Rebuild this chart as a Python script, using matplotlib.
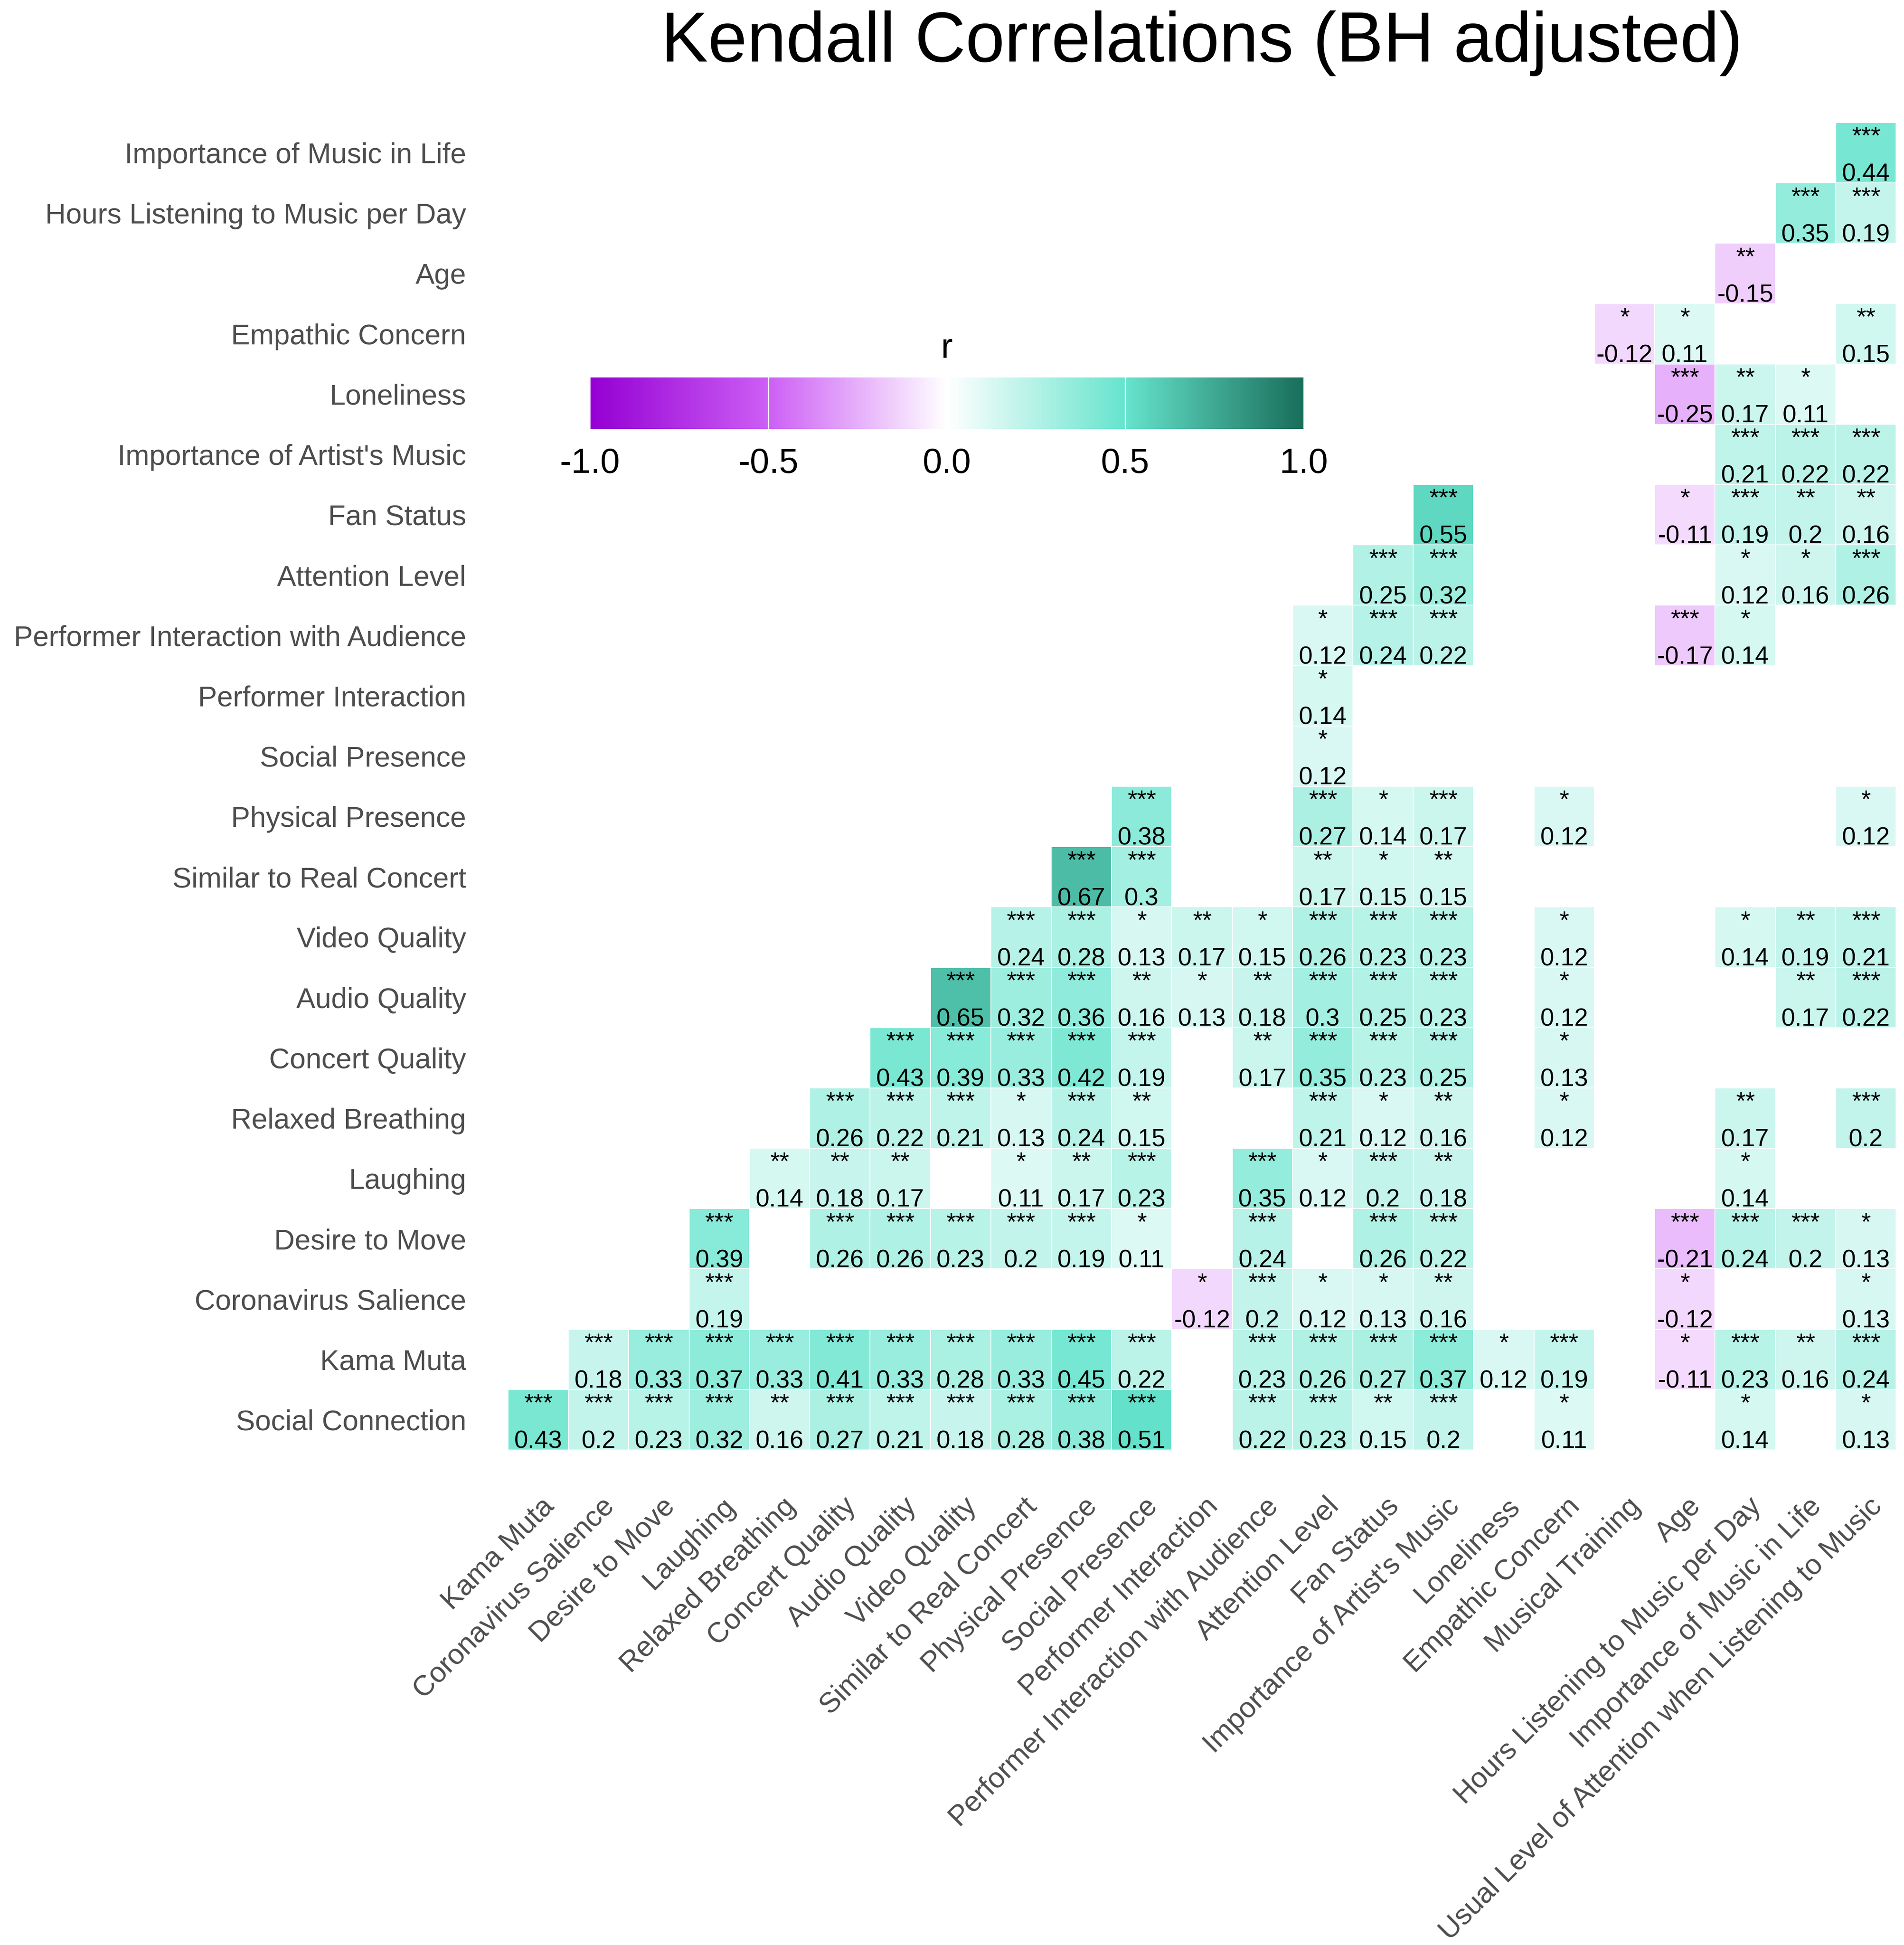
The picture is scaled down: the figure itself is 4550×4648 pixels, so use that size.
import numpy as np
import matplotlib
matplotlib.use("Agg")
import matplotlib.pyplot as plt
from matplotlib.colors import LinearSegmentedColormap, Normalize
from matplotlib.cm import ScalarMappable
from matplotlib.transforms import ScaledTranslation

plt.rcParams['font.family'] = ['Liberation Sans', 'DejaVu Sans']

title = "Kendall Correlations (BH adjusted)"

col_labels = ["Kama Muta", "Coronavirus Salience", "Desire to Move", "Laughing",
              "Relaxed Breathing", "Concert Quality", "Audio Quality", "Video Quality",
              "Similar to Real Concert", "Physical Presence", "Social Presence",
              "Performer Interaction", "Performer Interaction with Audience",
              "Attention Level", "Fan Status", "Importance of Artist's Music",
              "Loneliness", "Empathic Concern", "Musical Training", "Age",
              "Hours Listening to Music per Day", "Importance of Music in Life",
              "Usual Level of Attention when Listening to Music"]

# bottom to top
row_labels = ["Social Connection", "Kama Muta", "Coronavirus Salience", "Desire to Move",
              "Laughing", "Relaxed Breathing", "Concert Quality", "Audio Quality",
              "Video Quality", "Similar to Real Concert", "Physical Presence",
              "Social Presence", "Performer Interaction",
              "Performer Interaction with Audience", "Attention Level", "Fan Status",
              "Importance of Artist's Music", "Loneliness", "Empathic Concern", "Age",
              "Hours Listening to Music per Day", "Importance of Music in Life"]

# significant cells: row variable, column variable, Kendall r, significance stars
cell_row, cell_col, cell_r, cell_sig = [], [], [], []

def add(row, cols, rs, sigs):
    for c, r, s in zip(cols, rs, sigs):
        cell_row.append(row); cell_col.append(c); cell_r.append(r); cell_sig.append(s)

add("Social Connection",
    ["Kama Muta", "Coronavirus Salience", "Desire to Move", "Laughing", "Relaxed Breathing",
     "Concert Quality", "Audio Quality", "Video Quality", "Similar to Real Concert",
     "Physical Presence", "Social Presence", "Performer Interaction with Audience",
     "Attention Level", "Fan Status", "Importance of Artist's Music", "Empathic Concern",
     "Hours Listening to Music per Day", "Usual Level of Attention when Listening to Music"],
    [0.43, 0.2, 0.23, 0.32, 0.16, 0.27, 0.21, 0.18, 0.28, 0.38, 0.51, 0.22, 0.23, 0.15, 0.2, 0.11, 0.14, 0.13],
    ["***", "***", "***", "***", "**", "***", "***", "***", "***", "***", "***", "***", "***", "**", "***", "*", "*", "*"])
add("Kama Muta",
    ["Coronavirus Salience", "Desire to Move", "Laughing", "Relaxed Breathing", "Concert Quality",
     "Audio Quality", "Video Quality", "Similar to Real Concert", "Physical Presence",
     "Social Presence", "Performer Interaction with Audience", "Attention Level", "Fan Status",
     "Importance of Artist's Music", "Loneliness", "Empathic Concern", "Age",
     "Hours Listening to Music per Day", "Importance of Music in Life",
     "Usual Level of Attention when Listening to Music"],
    [0.18, 0.33, 0.37, 0.33, 0.41, 0.33, 0.28, 0.33, 0.45, 0.22, 0.23, 0.26, 0.27, 0.37, 0.12, 0.19, -0.11, 0.23, 0.16, 0.24],
    ["***", "***", "***", "***", "***", "***", "***", "***", "***", "***", "***", "***", "***", "***", "*", "***", "*", "***", "**", "***"])
add("Coronavirus Salience",
    ["Laughing", "Performer Interaction", "Performer Interaction with Audience", "Attention Level",
     "Fan Status", "Importance of Artist's Music", "Age",
     "Usual Level of Attention when Listening to Music"],
    [0.19, -0.12, 0.2, 0.12, 0.13, 0.16, -0.12, 0.13],
    ["***", "*", "***", "*", "*", "**", "*", "*"])
add("Desire to Move",
    ["Laughing", "Concert Quality", "Audio Quality", "Video Quality", "Similar to Real Concert",
     "Physical Presence", "Social Presence", "Performer Interaction with Audience", "Fan Status",
     "Importance of Artist's Music", "Age", "Hours Listening to Music per Day",
     "Importance of Music in Life", "Usual Level of Attention when Listening to Music"],
    [0.39, 0.26, 0.26, 0.23, 0.2, 0.19, 0.11, 0.24, 0.26, 0.22, -0.21, 0.24, 0.2, 0.13],
    ["***", "***", "***", "***", "***", "***", "*", "***", "***", "***", "***", "***", "***", "*"])
add("Laughing",
    ["Relaxed Breathing", "Concert Quality", "Audio Quality", "Similar to Real Concert",
     "Physical Presence", "Social Presence", "Performer Interaction with Audience",
     "Attention Level", "Fan Status", "Importance of Artist's Music",
     "Hours Listening to Music per Day"],
    [0.14, 0.18, 0.17, 0.11, 0.17, 0.23, 0.35, 0.12, 0.2, 0.18, 0.14],
    ["**", "**", "**", "*", "**", "***", "***", "*", "***", "**", "*"])
add("Relaxed Breathing",
    ["Concert Quality", "Audio Quality", "Video Quality", "Similar to Real Concert",
     "Physical Presence", "Social Presence", "Attention Level", "Fan Status",
     "Importance of Artist's Music", "Empathic Concern", "Hours Listening to Music per Day",
     "Usual Level of Attention when Listening to Music"],
    [0.26, 0.22, 0.21, 0.13, 0.24, 0.15, 0.21, 0.12, 0.16, 0.12, 0.17, 0.2],
    ["***", "***", "***", "*", "***", "**", "***", "*", "**", "*", "**", "***"])
add("Concert Quality",
    ["Audio Quality", "Video Quality", "Similar to Real Concert", "Physical Presence",
     "Social Presence", "Performer Interaction with Audience", "Attention Level", "Fan Status",
     "Importance of Artist's Music", "Empathic Concern"],
    [0.43, 0.39, 0.33, 0.42, 0.19, 0.17, 0.35, 0.23, 0.25, 0.13],
    ["***", "***", "***", "***", "***", "**", "***", "***", "***", "*"])
add("Audio Quality",
    ["Video Quality", "Similar to Real Concert", "Physical Presence", "Social Presence",
     "Performer Interaction", "Performer Interaction with Audience", "Attention Level",
     "Fan Status", "Importance of Artist's Music", "Empathic Concern",
     "Importance of Music in Life", "Usual Level of Attention when Listening to Music"],
    [0.65, 0.32, 0.36, 0.16, 0.13, 0.18, 0.3, 0.25, 0.23, 0.12, 0.17, 0.22],
    ["***", "***", "***", "**", "*", "**", "***", "***", "***", "*", "**", "***"])
add("Video Quality",
    ["Similar to Real Concert", "Physical Presence", "Social Presence", "Performer Interaction",
     "Performer Interaction with Audience", "Attention Level", "Fan Status",
     "Importance of Artist's Music", "Empathic Concern", "Hours Listening to Music per Day",
     "Importance of Music in Life", "Usual Level of Attention when Listening to Music"],
    [0.24, 0.28, 0.13, 0.17, 0.15, 0.26, 0.23, 0.23, 0.12, 0.14, 0.19, 0.21],
    ["***", "***", "*", "**", "*", "***", "***", "***", "*", "*", "**", "***"])
add("Similar to Real Concert",
    ["Physical Presence", "Social Presence", "Attention Level", "Fan Status",
     "Importance of Artist's Music"],
    [0.67, 0.3, 0.17, 0.15, 0.15],
    ["***", "***", "**", "*", "**"])
add("Physical Presence",
    ["Social Presence", "Attention Level", "Fan Status", "Importance of Artist's Music",
     "Empathic Concern", "Usual Level of Attention when Listening to Music"],
    [0.38, 0.27, 0.14, 0.17, 0.12, 0.12],
    ["***", "***", "*", "***", "*", "*"])
add("Social Presence", ["Attention Level"], [0.12], ["*"])
add("Performer Interaction", ["Attention Level"], [0.14], ["*"])
add("Performer Interaction with Audience",
    ["Attention Level", "Fan Status", "Importance of Artist's Music", "Age",
     "Hours Listening to Music per Day"],
    [0.12, 0.24, 0.22, -0.17, 0.14],
    ["*", "***", "***", "***", "*"])
add("Attention Level",
    ["Fan Status", "Importance of Artist's Music", "Hours Listening to Music per Day",
     "Importance of Music in Life", "Usual Level of Attention when Listening to Music"],
    [0.25, 0.32, 0.12, 0.16, 0.26],
    ["***", "***", "*", "*", "***"])
add("Fan Status",
    ["Importance of Artist's Music", "Age", "Hours Listening to Music per Day",
     "Importance of Music in Life", "Usual Level of Attention when Listening to Music"],
    [0.55, -0.11, 0.19, 0.2, 0.16],
    ["***", "*", "***", "**", "**"])
add("Importance of Artist's Music",
    ["Hours Listening to Music per Day", "Importance of Music in Life",
     "Usual Level of Attention when Listening to Music"],
    [0.21, 0.22, 0.22],
    ["***", "***", "***"])
add("Loneliness",
    ["Age", "Hours Listening to Music per Day", "Importance of Music in Life"],
    [-0.25, 0.17, 0.11],
    ["***", "**", "*"])
add("Empathic Concern",
    ["Musical Training", "Age", "Usual Level of Attention when Listening to Music"],
    [-0.12, 0.11, 0.15],
    ["*", "*", "**"])
add("Age", ["Hours Listening to Music per Day"], [-0.15], ["**"])
add("Hours Listening to Music per Day",
    ["Importance of Music in Life", "Usual Level of Attention when Listening to Music"],
    [0.35, 0.19],
    ["***", "***"])
add("Importance of Music in Life",
    ["Usual Level of Attention when Listening to Music"], [0.44], ["***"])

cbar_ticks = [-1.0, -0.5, 0.0, 0.5, 1.0]
cbar_ticklabels = ["-1.0", "-0.5", "0.0", "0.5", "1.0"]

cmap = LinearSegmentedColormap.from_list(
    "kendall", [(0.0, "#9400D3"), (0.25, "#CD5FF5"), (0.5, "#FFFFFF"),
                (0.75, "#66E4CD"), (1.0, "#196E5A")])
norm = Normalize(vmin=-1, vmax=1)

W, H = 4550, 4648
fig = plt.figure(figsize=(W / 300, H / 300), dpi=300)
fig.patch.set_facecolor("white")

gx0, gx1, gy0, gy1 = 1214, 4531, 293, 3465
ax = fig.add_axes([gx0 / W, 1 - gy1 / H, (gx1 - gx0) / W, (gy1 - gy0) / H])

nr, nc = len(row_labels), len(col_labels)
Z = np.full((nr, nc), np.nan)
for rw, cl, r in zip(cell_row, cell_col, cell_r):
    Z[row_labels.index(rw), col_labels.index(cl)] = r

ax.pcolormesh(np.arange(nc + 1) - 0.5, np.arange(nr + 1) - 0.5, np.ma.masked_invalid(Z),
              cmap=cmap, norm=norm, edgecolors="white", linewidth=0.4)

txt_fs = 14.2
for rw, cl, r, s in zip(cell_row, cell_col, cell_r, cell_sig):
    yi = row_labels.index(rw)
    xi = col_labels.index(cl)
    ax.text(xi, yi + 0.15, s, ha="center", va="baseline", fontsize=txt_fs, color="black")
    ax.text(xi, yi - 0.47, f"{r:g}", ha="center", va="baseline", fontsize=txt_fs, color="black")

ax.set_xlim(-0.5, nc - 0.5)
ax.set_ylim(-0.5, nr - 0.5)
for sp in ax.spines.values():
    sp.set_visible(False)

ax.set_yticks(range(nr))
ax.set_yticklabels(row_labels, fontsize=16.4, color="#4D4D4D")
ax.set_xticks(range(nc))
ax.set_xticklabels(col_labels, fontsize=16.4, color="#4D4D4D", rotation=45,
                   ha="right", va="center", rotation_mode="anchor")
ax.tick_params(axis="y", length=0, pad=24)
ax.tick_params(axis="x", length=0, pad=30)
shift = ScaledTranslation(28 / 300, 0, fig.dpi_scale_trans)
for lab in ax.get_xticklabels():
    lab.set_transform(lab.get_transform() + shift)

# title
fig.text(2872 / W, 1 - 147 / H, title, ha="center", va="baseline", fontsize=40.3, color="black")

# colour bar
cx0, cx1, cy0, cy1 = 1409, 3116, 902, 1025
cax = fig.add_axes([cx0 / W, 1 - cy1 / H, (cx1 - cx0) / W, (cy1 - cy0) / H])
cb = fig.colorbar(ScalarMappable(norm=norm, cmap=cmap), cax=cax, orientation="horizontal",
                  ticks=cbar_ticks)
cb.ax.set_xticklabels(cbar_ticklabels)
cb.outline.set_visible(False)
cax.tick_params(axis="x", length=0, pad=10.5, labelsize=20, labelcolor="black")
for t in cbar_ticks:
    cax.axvline(t, color="white", lw=0.8)
fig.text((cx0 + cx1) / 2 / W, 1 - 855 / H, "r", ha="center", va="baseline", fontsize=20)

fig.savefig("out.png", dpi=300, facecolor="white")
